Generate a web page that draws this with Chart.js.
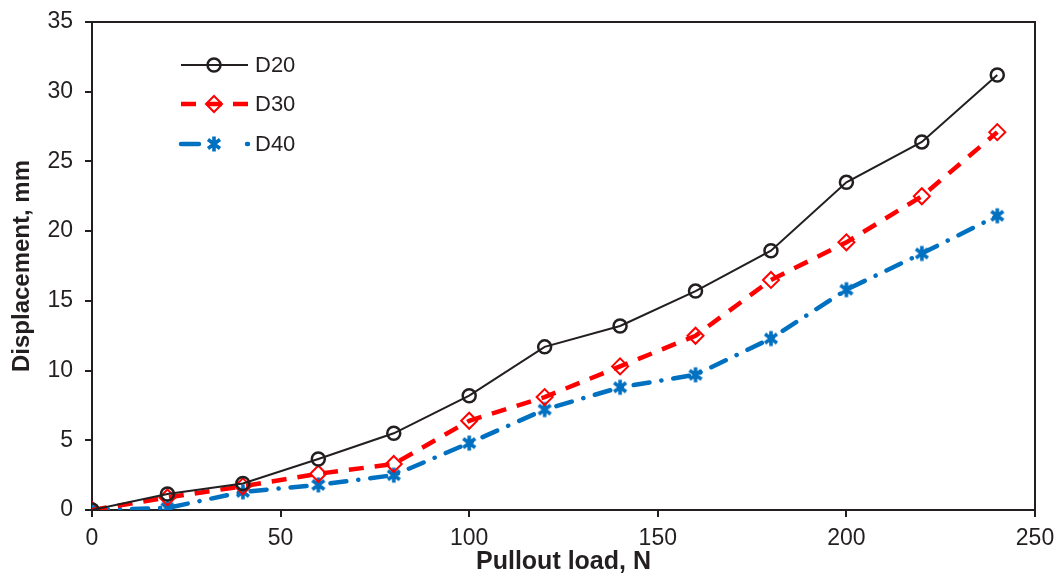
<!DOCTYPE html>
<html>
<head>
<meta charset="utf-8">
<script src="https://cdn.jsdelivr.net/npm/chart.js@4"></script>
<style>
  body { margin: 0; background: #fff; }
  #wrap { width: 1057px; height: 577px; }
</style>
</head>
<body>
<div id="wrap"><canvas id="chart"></canvas></div>
<script>
const loads = [0, 20, 40, 60, 80, 100, 120, 140, 160, 180, 200, 220, 240];
const d20 = [0, 1.15, 1.9, 3.66, 5.5, 8.2, 11.7, 13.2, 15.7, 18.6, 23.5, 26.4, 31.2];
const d30 = [0, 0.9, 1.7, 2.6, 3.3, 6.4, 8.1, 10.3, 12.5, 16.5, 19.2, 22.5, 27.1];
const d40 = [0, 0.15, 1.3, 1.8, 2.5, 4.8, 7.2, 8.8, 9.7, 12.3, 15.8, 18.4, 21.1];

const font = "'Liberation Sans', Arial, sans-serif";
const ink = '#231f20';

function pts(values) {
    return values.map((v, i) => ({ x: loads[i], y: v }));
}

// six-armed asterisk marker like the original
function asterisk(color) {
    const c = document.createElement('canvas');
    c.width = 18;
    c.height = 18;
    const g = c.getContext('2d');
    g.strokeStyle = color;
    g.lineWidth = 3.6;
    g.beginPath();
    g.moveTo(9, 1.5); g.lineTo(9, 16.5);
    g.moveTo(3, 4.5); g.lineTo(15, 13.5);
    g.moveTo(15, 4.5); g.lineTo(3, 13.5);
    g.stroke();
    return c;
}
const starMark = asterisk('#0070c0');

// box frame on top/right, tick marks, and legend drawn inside the plot
const frameAndLegend = {
    id: 'frameAndLegend',
    afterDraw(chart) {
        const { ctx, chartArea, scales } = chart;
        ctx.save();
        ctx.strokeStyle = ink;
        ctx.lineWidth = 2;
        ctx.beginPath();
        ctx.moveTo(chartArea.left, chartArea.top);
        ctx.lineTo(chartArea.right, chartArea.top);
        ctx.lineTo(chartArea.right, chartArea.bottom);
        scales.x.ticks.forEach(t => {
            const px = Math.round(scales.x.getPixelForValue(t.value));
            ctx.moveTo(px, chartArea.bottom);
            ctx.lineTo(px, chartArea.bottom + 7);
        });
        scales.y.ticks.forEach(t => {
            const py = Math.round(scales.y.getPixelForValue(t.value));
            ctx.moveTo(chartArea.left, py);
            ctx.lineTo(chartArea.left - 7, py);
        });
        ctx.stroke();

        const rows = [65, 104, 144];
        chart.data.datasets.forEach((ds, i) => {
            const y = rows[i];
            ctx.save();
            ctx.strokeStyle = ds.borderColor;
            ctx.lineWidth = ds.borderWidth;
            ctx.lineCap = ds.borderCapStyle || 'butt';
            ctx.setLineDash(ds.legendDash || []);
            ctx.beginPath();
            ctx.moveTo(181, y);
            ctx.lineTo(248, y);
            ctx.stroke();
            ctx.restore();

            ctx.save();
            ctx.fillStyle = ds.pointBackgroundColor;
            ctx.strokeStyle = ds.pointBorderColor;
            ctx.lineWidth = ds.pointBorderWidth;
            ctx.setLineDash([]);
            Chart.helpers.drawPoint(ctx, {
                pointStyle: ds.pointStyle,
                radius: ds.pointRadius,
                borderWidth: ds.pointBorderWidth
            }, 214, y);
            ctx.restore();

            ctx.fillStyle = ink;
            ctx.font = '22px ' + font;
            ctx.textBaseline = 'middle';
            ctx.fillText(ds.label, 255, y + 1);
        });
        ctx.restore();
    }
};

new Chart(document.getElementById('chart').getContext('2d'), {
    type: 'line',
    data: {
        datasets: [
            {
                label: 'D20',
                data: pts(d20),
                borderColor: ink,
                borderWidth: 2,
                pointStyle: 'circle',
                pointRadius: 6.5,
                pointBorderWidth: 2.5,
                pointBorderColor: ink,
                pointBackgroundColor: 'rgba(255,255,255,0)',
                tension: 0
            },
            {
                label: 'D30',
                data: pts(d30),
                borderColor: '#ff0000',
                borderWidth: 4.5,
                borderDash: [15, 11],
                legendDash: [15, 11],
                pointStyle: 'rectRot',
                pointRadius: 8,
                pointBorderWidth: 2,
                pointBorderColor: '#ff0000',
                pointBackgroundColor: 'rgba(255,255,255,0)',
                tension: 0
            },
            {
                label: 'D40',
                data: pts(d40),
                borderColor: '#0070c0',
                borderWidth: 4.5,
                borderCapStyle: 'round',
                borderDash: [16, 12, 0.1, 12],
                legendDash: [18, 48],
                pointStyle: starMark,
                pointRadius: 8,
                pointBorderWidth: 0,
                pointBorderColor: '#0070c0',
                pointBackgroundColor: '#0070c0',
                tension: 0
            }
        ]
    },
    options: {
        responsive: true,
        maintainAspectRatio: false,
        animation: false,
        layout: { padding: { top: 22, right: 22, left: 0, bottom: 0 } },
        plugins: {
            legend: { display: false },
            tooltip: { enabled: false }
        },
        scales: {
            x: {
                type: 'linear',
                min: 0,
                max: 250,
                ticks: { stepSize: 50, color: ink, font: { family: font, size: 23 }, padding: 8, maxRotation: 0 },
                grid: { drawOnChartArea: false, drawTicks: true, tickLength: 7, color: ink, lineWidth: 2 },
                border: { display: true, color: ink, width: 2 },
                title: { display: true, text: 'Pullout load, N', color: ink, font: { family: font, size: 25, weight: 'bold' }, padding: { top: 0, bottom: 0 } },
                afterFit(scale) {
                    scale.height = 67;
                    scale.paddingLeft = 0;
                    scale.paddingRight = 0;
                }
            },
            y: {
                min: 0,
                max: 35,
                ticks: { stepSize: 5, color: ink, font: { family: font, size: 23 }, padding: 12 },
                grid: { drawOnChartArea: false, drawTicks: true, tickLength: 7, color: ink, lineWidth: 2 },
                border: { display: true, color: ink, width: 2 },
                title: { display: true, text: 'Displacement, mm', color: ink, font: { family: font, size: 24, weight: 'bold' }, padding: { top: 8, bottom: 0 } },
                afterFit(scale) {
                    scale.width = 92;
                    scale.paddingTop = 0;
                    scale.paddingBottom = 0;
                }
            }
        }
    },
    plugins: [frameAndLegend]
});
</script>
</body>
</html>
